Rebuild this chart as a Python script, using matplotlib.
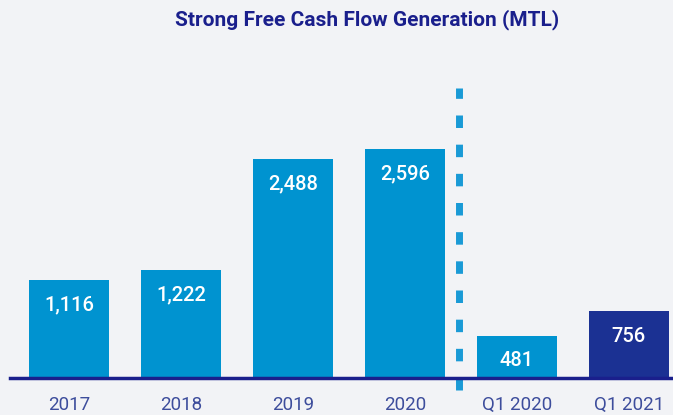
import matplotlib.pyplot as plt
import numpy as np

categories = ["2017", "2018", "2019", "2020", "Q1 2020", "Q1 2021"]
values = [1116, 1222, 2488, 2596, 481, 756]
labels = ["1,116", "1,222", "2,488", "2,596", "481", "756"]
colors = ["#0093d0", "#0093d0", "#0093d0", "#0093d0", "#0093d0", "#1b3193"]

bg = "#f2f3f6"
navy = "#1a1f8c"

fig = plt.figure(figsize=(6.73, 4.15), dpi=100, facecolor=bg)
# axes: left edge at x=10px, baseline at y=378px, top at y=60px
ax = fig.add_axes([10 / 673, (415 - 378) / 415, 663 / 673, 318 / 415])
ax.set_facecolor(bg)

x = np.arange(len(categories))
ax.bar(x, values, width=80 / 112, color=colors, zorder=2)

px_per_unit = 229 / 2596
for xi, v, lab in zip(x, values, labels):
    ax.text(xi, v - 25 / px_per_unit, lab, ha="center", va="center",
            color="white", fontsize=14.5, fontweight="medium",
            family=["Roboto", "DejaVu Sans"], zorder=3)

ax.set_xlim((10 - 69) / 112, (673 - 69) / 112)
ax.set_ylim(0, 318 / px_per_unit)

# dashed separator between annual and quarterly figures
ax.plot([3.482, 3.482], [-140, 3290], color="#1a9ad6", lw=5,
        dashes=(1.8, 2.4), clip_on=False, zorder=4, solid_capstyle="butt")

for s in ["top", "right", "left"]:
    ax.spines[s].set_visible(False)
ax.spines["bottom"].set_color(navy)
ax.spines["bottom"].set_linewidth(2.5)
ax.spines["bottom"].set_zorder(5)

ax.set_yticks([])
ax.set_xticks(x)
ax.set_xticklabels(categories, color="#3d4d9c", fontsize=13.5,
                   family=["Roboto", "DejaVu Sans"])
ax.tick_params(axis="x", length=0, pad=13)

fig.text(367 / 673, 1 - 20 / 415, "Strong Free Cash Flow Generation (MTL)",
         ha="center", va="center", color=navy, fontsize=15,
         fontweight="bold", family=["Roboto", "DejaVu Sans"])

fig.savefig("out.png", dpi=100, facecolor=bg)
